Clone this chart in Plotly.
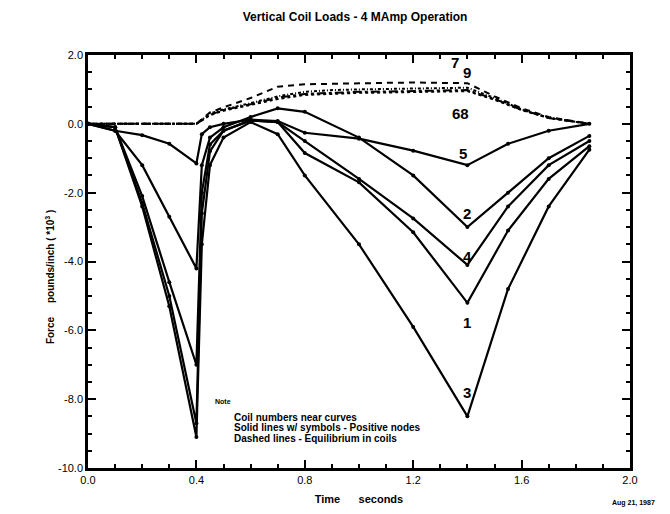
import plotly.graph_objects as go

# ---- data ----
time_solid = [0, 0.1, 0.2, 0.3, 0.4, 0.42, 0.45, 0.5, 0.6, 0.7, 0.8, 1.0, 1.2, 1.4, 1.55, 1.7, 1.85]
coil1 = [0, -0.1, -2.3, -5.0, -8.7, -2.6, -0.8, -0.2, 0.1, 0.05, -0.85, -1.7, -3.15, -5.2, -3.1, -1.6, -0.65]
coil2 = [0, -0.2, -1.2, -2.7, -4.2, -1.2, -0.4, -0.1, 0.2, 0.45, 0.35, -0.4, -1.5, -3.0, -2.0, -1.0, -0.35]
coil3 = [0, -0.1, -2.4, -5.3, -9.1, -3.5, -1.2, -0.4, 0.05, -0.3, -1.5, -3.5, -5.9, -8.5, -4.8, -2.4, -0.75]
coil4 = [0, -0.1, -2.1, -4.6, -7.0, -2.0, -0.6, -0.2, 0.1, 0.05, -0.5, -1.6, -2.75, -4.1, -2.4, -1.2, -0.5]
coil5 = [0, -0.2, -0.33, -0.58, -1.15, -0.3, -0.1, 0.0, 0.12, 0.08, -0.26, -0.43, -0.78, -1.2, -0.58, -0.2, 0.0]

time_dash = [0, 0.1, 0.2, 0.3, 0.4, 0.45, 0.5, 0.6, 0.7, 0.8, 0.9, 1.0, 1.1, 1.2, 1.3, 1.4, 1.5, 1.6, 1.7, 1.85]
coil6 = [0, 0, 0, 0, 0, 0.25, 0.38, 0.55, 0.72, 0.84, 0.88, 0.9, 0.91, 0.92, 0.93, 0.95, 0.7, 0.4, 0.17, 0.0]
coil7 = [0, 0, 0, 0, 0, 0.33, 0.48, 0.75, 1.08, 1.15, 1.17, 1.18, 1.19, 1.2, 1.2, 1.18, 0.8, 0.45, 0.2, 0.0]
coil8 = [0, 0, 0, 0, 0, 0.26, 0.4, 0.57, 0.76, 0.87, 0.91, 0.93, 0.94, 0.95, 0.96, 0.98, 0.72, 0.41, 0.17, 0.0]
coil9 = [0, 0, 0, 0, 0, 0.3, 0.42, 0.6, 0.8, 0.93, 0.98, 1.0, 1.01, 1.02, 1.03, 1.05, 0.75, 0.42, 0.18, 0.0]

x_ticks = [0.0, 0.4, 0.8, 1.2, 1.6, 2.0]
x_tick_text = ["0.0", "0.4", "0.8", "1.2", "1.6", "2.0"]
y_ticks = [2, 0, -2, -4, -6, -8, -10]
y_tick_text = ["2.0", "0.0", "-2.0", "-4.0", "-6.0", "-8.0", "-10.0"]

curve_labels = ["1", "2", "3", "4", "5", "68", "7", "9"]
label_x = [1.4, 1.4, 1.4, 1.4, 1.385, 1.375, 1.355, 1.40]
label_y = [-5.78, -2.6, -7.8, -3.85, -0.85, 0.3, 1.78, 1.48]

note_lines = ["Coil numbers near curves",
              "Solid lines w/ symbols - Positive nodes",
              "Dashed lines - Equilibrium in coils"]

FONT = "Liberation Sans, Arial, sans-serif"

fig = go.Figure()

for ys in [coil1, coil2, coil3, coil4, coil5]:
    fig.add_trace(go.Scatter(x=time_solid, y=ys, mode="lines+markers",
                             line=dict(color="black", width=2.2),
                             marker=dict(color="black", size=4),
                             showlegend=False, hoverinfo="skip"))

for ys, dash in [(coil6, "dot"), (coil8, "dashdot"), (coil9, "3px,2px,1px,2px"), (coil7, "6px,5px")]:
    fig.add_trace(go.Scatter(x=time_dash, y=ys, mode="lines",
                             line=dict(color="black", width=2, dash=dash),
                             showlegend=False, hoverinfo="skip"))

annotations = []
for t, xx, yy in zip(curve_labels, label_x, label_y):
    annotations.append(dict(x=xx, y=yy, xref="x", yref="y", text="<b>%s</b>" % t,
                            showarrow=False, font=dict(family=FONT, size=15, color="black")))

# y-axis title (sits left of the tick labels)
annotations.append(dict(x=-0.085, y=0.462, xref="paper", yref="paper", textangle=-90,
                        text="<b>Force     pounds/inch ( *10<sup>3</sup> )</b>", showarrow=False,
                        font=dict(family=FONT, size=10, color="black")))
# note block
annotations.append(dict(x=0.231, y=0.148, xref="paper", yref="paper", xanchor="left",
                        text="<b>Note</b>", showarrow=False,
                        font=dict(family=FONT, size=7, color="black")))
for i, line in enumerate(note_lines):
    annotations.append(dict(x=0.266, y=0.122 - i * 0.025, xref="paper", yref="paper",
                            xanchor="left", yanchor="middle", text="<b>%s</b>" % line,
                            showarrow=False, font=dict(family=FONT, size=10, color="black")))
# date
annotations.append(dict(x=1.05, y=-0.1, xref="paper", yref="paper", xanchor="right",
                        showarrow=False, text="<b>Aug 21, 1987</b>",
                        font=dict(family=FONT, size=7, color="black")))

fig.update_layout(
    width=670, height=514,
    margin=dict(l=80, r=48, t=47, b=54),
    paper_bgcolor="white", plot_bgcolor="white",
    title=dict(text="<b>Vertical Coil Loads - 4 MAmp Operation</b>", x=0.518, xanchor="center",
               y=0.982, yanchor="middle", font=dict(family=FONT, size=12, color="black")),
    annotations=annotations,
)

fig.update_xaxes(range=[0, 2.0], tickvals=x_ticks, ticktext=x_tick_text,
                 showline=True, linecolor="black", linewidth=2.5, mirror="ticks",
                 ticks="inside", ticklen=8, tickwidth=2, tickcolor="black",
                 minor=dict(dtick=0.1, ticks="inside", ticklen=4, tickwidth=1.5, tickcolor="black"),
                 showgrid=False, zeroline=False,
                 tickfont=dict(family=FONT, size=11, color="black"),
                 title=dict(text="<b>Time      seconds</b>", standoff=11,
                            font=dict(family=FONT, size=11, color="black")))
fig.update_yaxes(range=[-10, 2.0], tickvals=y_ticks, ticktext=y_tick_text,
                 showline=True, linecolor="black", linewidth=2.5, mirror="ticks",
                 ticks="inside", ticklen=8, tickwidth=2, tickcolor="black",
                 minor=dict(dtick=0.5, ticks="inside", ticklen=4, tickwidth=1.5, tickcolor="black"),
                 showgrid=False, zeroline=False,
                 tickfont=dict(family=FONT, size=11, color="black"))

fig.write_html("out.html")
